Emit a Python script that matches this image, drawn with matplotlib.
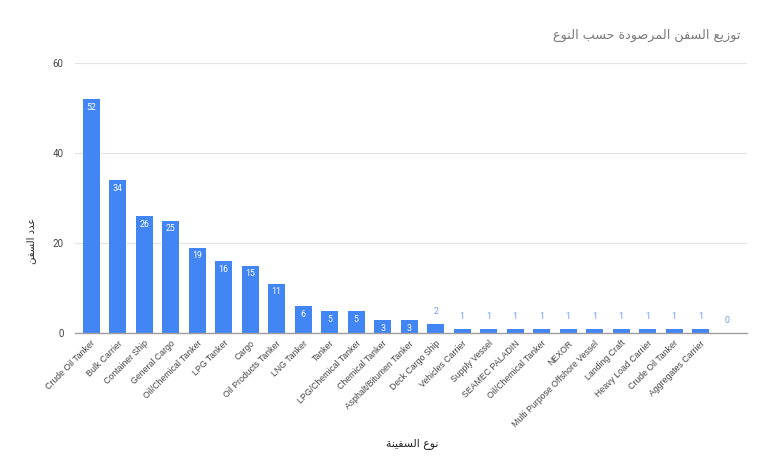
import matplotlib
matplotlib.use("Agg")
import matplotlib.pyplot as plt

# ---- data ----
categories = ["Crude Oil Tanker", "Bulk Carrier", "Container Ship", "General Cargo",
              "Oil/Chemical Tanker", "LPG Tanker", "Cargo", "Oil Products Tanker",
              "LNG Tanker", "Tanker", "LPG/Chemical Tanker", "Chemical Tanker",
              "Asphalt/Bitumen Tanker", "Deck Cargo Ship", "Vehicles Carrier",
              "Supply Vessel", "SEAMEC PALADIN", "Oil/Chemical Tanker", "NEXOR",
              "Multi Purpose Offshore Vessel", "Landing Craft", "Heavy Load Carrier",
              "Crude Oil Tanker", "Aggregates Carrier", ""]
counts = [52, 34, 26, 25, 19, 16, 15, 11, 6, 5, 5, 3, 3, 2, 1, 1, 1, 1, 1, 1, 1, 1, 1, 1, 0]
y_ticks = [0, 20, 40, 60]

title_text = "توزيع السفن المرصودة حسب النوع"
xlabel_text = "نوع السفينة"
ylabel_text = "عدد السفن"

# ---- minimal Arabic shaping (presentation forms + visual order) ----
FORMS = {
    'ا': (0xFE8D, 0xFE8E, None, None),
    'ب': (0xFE8F, 0xFE90, 0xFE91, 0xFE92),
    'ة': (0xFE93, 0xFE94, None, None),
    'ت': (0xFE95, 0xFE96, 0xFE97, 0xFE98),
    'ح': (0xFEA1, 0xFEA2, 0xFEA3, 0xFEA4),
    'د': (0xFEA9, 0xFEAA, None, None),
    'ر': (0xFEAD, 0xFEAE, None, None),
    'ز': (0xFEAF, 0xFEB0, None, None),
    'س': (0xFEB1, 0xFEB2, 0xFEB3, 0xFEB4),
    'ص': (0xFEB9, 0xFEBA, 0xFEBB, 0xFEBC),
    'ع': (0xFEC9, 0xFECA, 0xFECB, 0xFECC),
    'ف': (0xFED1, 0xFED2, 0xFED3, 0xFED4),
    'ل': (0xFEDD, 0xFEDE, 0xFEDF, 0xFEE0),
    'م': (0xFEE1, 0xFEE2, 0xFEE3, 0xFEE4),
    'ن': (0xFEE5, 0xFEE6, 0xFEE7, 0xFEE8),
    'و': (0xFEED, 0xFEEE, None, None),
    'ي': (0xFEF1, 0xFEF2, 0xFEF3, 0xFEF4),
}


def shape(text):
    out = []
    chars = list(text)
    for i, c in enumerate(chars):
        if c not in FORMS:
            out.append(c)
            continue
        iso, fin, ini, med = FORMS[c]
        prev = chars[i - 1] if i > 0 else None
        nxt = chars[i + 1] if i + 1 < len(chars) else None
        pj = prev in FORMS and FORMS[prev][2] is not None
        nj = ini is not None and nxt in FORMS
        if pj and nj:
            cp = med
        elif pj:
            cp = fin
        elif nj:
            cp = ini
        else:
            cp = iso
        out.append(chr(cp))
    return "".join(out)[::-1]


BLUE = "#4285F4"
fig = plt.figure(figsize=(7.7, 4.76), dpi=100)
ax = fig.add_axes([0.097, 0.300, 0.873, 0.568])

x = list(range(len(categories)))
bars = ax.bar(x, counts, width=0.64, color=BLUE, zorder=3)

for xi, v in zip(x, counts):
    if v >= 3:
        ax.annotate(str(v), (xi, v), xytext=(0, -6), textcoords="offset points",
                    ha="center", va="center", fontsize=6.3, color="white",
                    family="Roboto", zorder=4)
    else:
        ax.annotate(str(v), (xi, v), xytext=(0, 9), textcoords="offset points",
                    ha="center", va="center", fontsize=6.3, color="#6a9ef5",
                    family="Roboto", zorder=4)

ax.set_ylim(0, 60)
ax.set_xlim(-0.62, 24.75)
ax.set_yticks(y_ticks)
ax.set_yticklabels([str(t) for t in y_ticks], fontsize=7, color="#444444", family="Roboto")
ax.set_xticks(x)
ax.set_xticklabels(categories, rotation=45, ha="right", rotation_mode="anchor",
                   fontsize=6.3, color="#444444", family="Liberation Sans")
ax.tick_params(axis="both", length=0)
ax.tick_params(axis="x", pad=4)
ax.tick_params(axis="y", pad=8)

ax.grid(axis="y", color="#e3e3e3", linewidth=0.8, zorder=0)
for s in ["top", "right", "left"]:
    ax.spines[s].set_visible(False)
ax.spines["bottom"].set_color("#9e9e9e")
ax.spines["bottom"].set_linewidth(1.0)
ax.spines["bottom"].set_zorder(5)

fig.text(0.962, 0.925, shape(title_text), ha="right", va="center",
         fontsize=9.2, color="#7a7a7a", family="DejaVu Sans")
fig.text(0.535, 0.068, shape(xlabel_text), ha="center", va="center",
         fontsize=7.8, color="#222222", family="DejaVu Sans")
fig.text(0.040, 0.495, shape(ylabel_text), ha="center", va="center", rotation=90,
         fontsize=7.2, color="#222222", family="DejaVu Sans")

fig.savefig("out.png", dpi=100, facecolor="white")
